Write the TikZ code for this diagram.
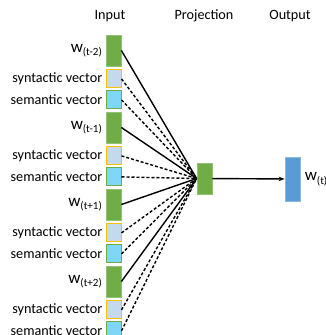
\documentclass[tikz,border=0pt]{standalone}
\usepackage{fontspec}
\setmainfont{Carlito}
\usetikzlibrary{positioning}
\usetikzlibrary{arrows.meta}
\definecolor{wordgreen}{RGB}{112,173,71}
\definecolor{synfill}{RGB}{197,217,238}
\definecolor{synedge}{RGB}{255,192,0}
\definecolor{semfill}{RGB}{127,215,247}
\definecolor{outblue}{RGB}{91,155,213}
\tikzstyle{word}=[draw=wordgreen!75!white, fill=wordgreen, line width=0.8pt,
                  minimum width=15pt, minimum height=31pt, inner sep=0pt]
\tikzstyle{synvec}=[draw=synedge, fill=synfill, line width=1pt,
                  minimum width=15pt, minimum height=18pt, inner sep=0pt]
\tikzstyle{semvec}=[draw=wordgreen, fill=semfill, line width=1pt,
                  minimum width=15pt, minimum height=18pt, inner sep=0pt]
\tikzstyle{lbl}=[font=\fontsize{14.2}{16}\selectfont]
\newcommand{\wlabel}[1]{{\fontsize{17}{18}\selectfont w}{\fontsize{11}{12}\selectfont\raisebox{-3.5pt}{(#1)}}}

\begin{document}
\begin{tikzpicture}[x=1pt, y=-1pt, lbl, thick]
      \useasboundingbox (0,0) rectangle (325,335);
      % Headers
      \node (hin) at (110,16) {Input};
      \node (hproj) at (204,16) {Projection};
      \node (hout) at (290,16) {Output};
      %
      % Projection and output layer
      \node[word, minimum height=31pt] (proj) at (204.5,178.5) {};
      \node[draw=outblue!70!white, fill=outblue, line width=0.8pt, minimum width=15pt,
            minimum height=44pt, inner sep=0pt] (out) at (292.5,179) {};
      \node[anchor=west, inner sep=0pt] (wout) at ([xshift=4pt]out.east) {\wlabel{t}};
      \draw[-{Stealth[length=6pt]}, line width=1.4pt] (proj) -- (out);
      %
      % Context words with their syntactic and semantic vectors
      \foreach \i/\t in {1/t-2, 2/t-1, 3/t+1, 4/t+2} {
        \node[word, label={[label distance=0pt]left:\wlabel{\t}}] (w\i) at (113.5,{50.5+77*(\i-1)}) {};
        \node[synvec, below=3pt of w\i, label={[label distance=-0.5pt]left:syntactic vector}] (syn\i) {};
        \node[semvec, below=2pt of syn\i, label={[label distance=-0.5pt]left:semantic vector}] (sem\i) {};
        \draw[line width=1.4pt] (w\i.east) -- (proj.west);
        \draw[line width=1.4pt, dash pattern=on 3pt off 2pt] (syn\i.east) -- (proj.west);
        \draw[line width=1.4pt, dash pattern=on 3pt off 2pt] (sem\i.east) -- (proj.west);
      }
\end{tikzpicture}
\end{document}
